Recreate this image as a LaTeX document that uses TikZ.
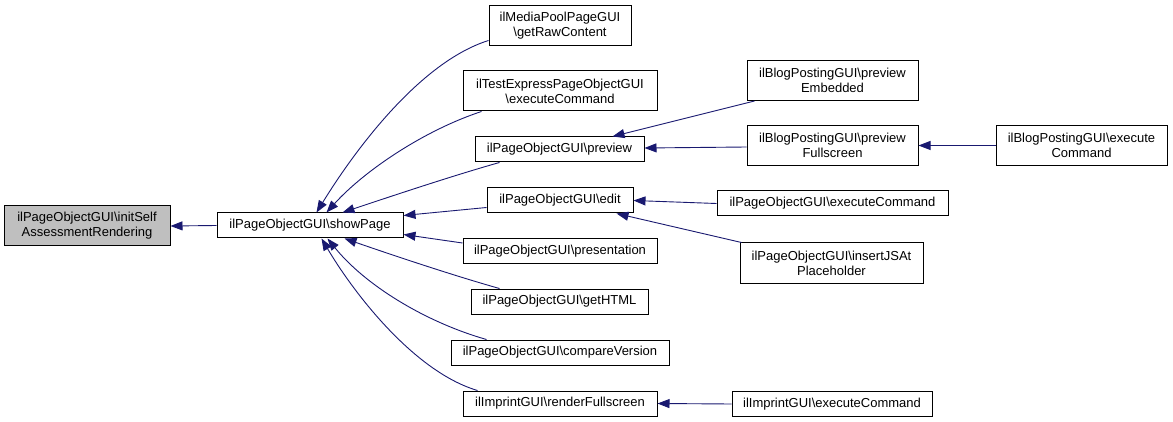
\documentclass[tikz,border=0pt]{standalone}
\usepackage{fontspec}
\setmainfont{Liberation Sans}
\usetikzlibrary{arrows.meta,calc}
\definecolor{edgeblue}{HTML}{191970}
\definecolor{boxgray}{HTML}{BFBFBF}
\begin{document}
\begin{tikzpicture}[x=1pt,y=-1pt,
  fn/.style={draw=black, line width=1pt, fill=white, inner sep=0pt, align=center,
    font=\fontsize{13}{15}\selectfont, minimum height=25pt},
  fn2/.style={fn, minimum height=40pt},
  edge/.style={draw=edgeblue, line width=0.9pt, -{Triangle[length=12pt,width=9pt]}}]
\useasboundingbox (0,0) rectangle (1173,422);
% nodes
\node[fn2, fill=boxgray, minimum width=166pt] (A) at (87,226) {ilPageObjectGUI\textbackslash initSelf\\AssessmentRendering};
\node[fn, minimum width=186pt] (B) at (310,225.5) {ilPageObjectGUI\textbackslash showPage};
\node[fn2, minimum width=142pt] (C1) at (560,26) {ilMediaPoolPageGUI\\\textbackslash getRawContent};
\node[fn2, minimum width=194pt] (C2) at (560,91) {ilTestExpressPageObjectGUI\\\textbackslash executeCommand};
\node[fn, minimum width=169pt] (C3) at (559.5,149.5) {ilPageObjectGUI\textbackslash preview};
\node[fn, minimum width=146pt] (C4) at (560,200.5) {ilPageObjectGUI\textbackslash edit};
\node[fn, minimum width=194pt] (C5) at (560,251) {ilPageObjectGUI\textbackslash presentation};
\node[fn, minimum width=177pt] (C6) at (559.5,301.5) {ilPageObjectGUI\textbackslash getHTML};
\node[fn, minimum width=218pt] (C7) at (560,352.5) {ilPageObjectGUI\textbackslash compareVersion};
\node[fn, minimum width=194pt] (C8) at (560,403.5) {ilImprintGUI\textbackslash renderFullscreen};
\node[fn2, minimum width=171pt] (D1) at (832.5,80.5) {ilBlogPostingGUI\textbackslash preview\\Embedded};
\node[fn2, minimum width=171pt] (D2) at (832.5,145.5) {ilBlogPostingGUI\textbackslash preview\\Fullscreen};
\node[fn2, minimum width=171pt] (E1) at (1081.5,145.5) {ilBlogPostingGUI\textbackslash execute\\Command};
\node[fn, minimum width=231pt] (D3) at (832.5,203.5) {ilPageObjectGUI\textbackslash executeCommand};
\node[fn2, minimum width=183pt] (D4) at (831.5,263) {ilPageObjectGUI\textbackslash insertJSAt\\Placeholder};
\node[fn, minimum width=200pt] (D5) at (832,404) {ilImprintGUI\textbackslash executeCommand};
% edges
\draw[edge] (B.west) -- (A.east);
\draw[edge] ($(C1.south west)+(0,-6)$) .. controls (420,62) and (355,150) .. ($(B.north west)+(100,0)$);
\draw[edge] ($(C2.south west)+(19,0)$) .. controls (425,130) and (365,170) .. ($(B.north west)+(110,0)$);
\draw[edge] ($(C3.south west)+(25,0)$) .. controls (455,175) and (395,195) .. ($(B.north west)+(126,0)$);
\draw[edge] ($(C4.west)+(0,7)$) -- ($(B.east)+(0,-10)$);
\draw[edge] ($(C5.west)+(0,-8)$) -- ($(B.east)+(0,9)$);
\draw[edge] ($(C6.north west)+(29,0)$) .. controls (455,276) and (395,256) .. ($(B.south west)+(128,0)$);
\draw[edge] ($(C7.north west)+(36,0)$) .. controls (425,322) and (365,285) .. ($(B.south west)+(111,0)$);
\draw[edge] ($(C8.north west)+(15,0)$) .. controls (415,372) and (355,295) .. ($(B.south west)+(105,0)$);
\draw[edge] ($(D1.south west)+(8,0)$) -- ($(C3.north west)+(138,0)$);
\draw[edge] ($(D2.west)+(0,1.5)$) -- ($(C3.east)+(0,-1.5)$);
\draw[edge] (E1.west) -- (D2.east);
\draw[edge] (D3.west) -- (C4.east);
\draw[edge] ($(D4.north west)+(2,0)$) -- ($(C4.south west)+(130,0)$);
\draw[edge] (D5.west) -- (C8.east);
\end{tikzpicture}
\end{document}
